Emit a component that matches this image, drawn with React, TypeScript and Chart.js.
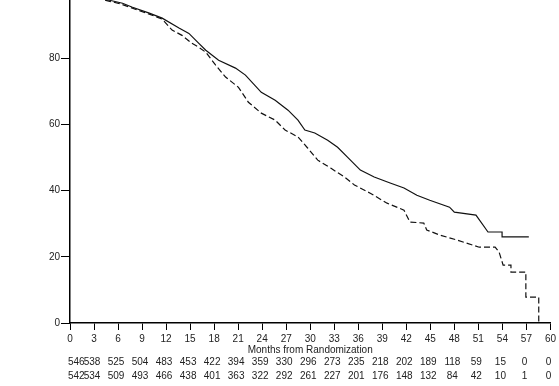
import React, { useEffect, useRef } from "react";
import { Chart, registerables } from "chart.js";

Chart.register(...registerables);

// Kaplan-Meier curves (months, survival %)
const solidMonths = [0, 4.95, 6.56, 7.8, 9.9, 11.51, 13.61, 14.85, 16.09, 16.96, 18.56, 20.67, 21.91, 23.89, 25.62, 27.23, 28.47, 29.33, 30.57, 32.18, 33.42, 34.65, 36.26, 37.99, 39.98, 41.71, 43.32, 44.93, 47.4, 48.0, 50.7, 52.2, 53.96, 53.96, 57.3];
const solidSurvival = [100, 97.5, 96.6, 95.4, 93.6, 92.1, 89.1, 87.5, 84.5, 82.4, 79.4, 77.0, 74.9, 69.7, 67.3, 64.3, 61.3, 58.3, 57.4, 55.2, 53.1, 50.1, 46.2, 44.1, 42.3, 40.8, 38.6, 37.1, 35.0, 33.5, 32.6, 27.5, 27.5, 26.0, 26.0];

const dashedMonths = [0, 4.6, 6.2, 7.8, 9.9, 11.51, 12.75, 13.99, 15.22, 16.09, 16.96, 18.19, 19.43, 21.04, 22.28, 23.89, 25.62, 26.86, 28.47, 29.7, 30.94, 32.55, 34.28, 35.52, 37.5, 39.6, 41.71, 42.45, 44.18, 44.55, 46.16, 48.27, 51.11, 53.09, 53.59, 54.09, 55.07, 55.07, 56.93, 56.93, 58.54, 58.54];
const dashedSurvival = [100, 97.4, 96.5, 95.1, 93.3, 91.8, 88.5, 86.9, 84.5, 83.3, 81.8, 77.9, 74.3, 71.2, 66.7, 63.4, 61.3, 58.3, 56.2, 52.8, 49.2, 46.8, 44.1, 41.7, 39.2, 36.2, 34.1, 30.5, 30.2, 28.1, 26.6, 25.1, 22.9, 22.9, 21.4, 17.5, 17.5, 15.4, 15.4, 7.8, 7.8, 0];

// Number at risk
const atRiskMonths = [0, 3, 6, 9, 12, 15, 18, 21, 24, 27, 30, 33, 36, 39, 42, 45, 48, 51, 54, 57, 60];
const atRiskSolid = [546, 538, 525, 504, 483, 453, 422, 394, 359, 330, 296, 273, 235, 218, 202, 189, 118, 59, 15, 0, 0];
const atRiskDashed = [542, 534, 509, 493, 466, 438, 401, 363, 322, 292, 261, 227, 201, 176, 148, 132, 84, 42, 10, 1, 0];

const xTitle = "Months from Randomization";

const OFFSET = 20; // canvas starts above the page top
const FONT = "Liberation Sans, Arial, sans-serif";

export default function App() {
  const ref = useRef<HTMLCanvasElement | null>(null);

  useEffect(() => {
    if (!ref.current) return;
    const toPts = (xs: number[], ys: number[]) => xs.map((x, i) => ({ x, y: ys[i] }));

    const riskPlugin = {
      id: "riskTable",
      afterDraw(chart: any) {
        const ctx = chart.ctx;
        const xs = chart.scales.x;
        ctx.save();
        ctx.fillStyle = "#222";
        ctx.textBaseline = "middle";
        ctx.font = `10px ${FONT}`;
        ctx.textAlign = "center";
        ctx.fillText(xTitle, (xs.left + xs.right) / 2, 350 + OFFSET);
        const rows = [atRiskSolid, atRiskDashed];
        const rowY = [362, 376];
        rows.forEach((row, r) => {
          row.forEach((n, i) => {
            const px = xs.getPixelForValue(atRiskMonths[i]);
            ctx.textAlign = i === 0 ? "left" : "center";
            ctx.fillText(String(n), px - 2, rowY[r] + OFFSET);
          });
        });
        ctx.restore();
      },
    };

    const chart = new Chart(ref.current, {
      type: "line",
      data: {
        datasets: [
          {
            data: toPts(solidMonths, solidSurvival),
            borderColor: "#111",
            borderWidth: 1.2,
            pointRadius: 0,
            tension: 0,
            fill: false,
          },
          {
            data: toPts(dashedMonths, dashedSurvival),
            borderColor: "#111",
            borderWidth: 1.2,
            borderDash: [6, 3],
            pointRadius: 0,
            tension: 0,
            fill: false,
          },
        ],
      },
      options: {
        animation: false,
        responsive: false,
        devicePixelRatio: 1,
        parsing: false,
        layout: { padding: { top: 12, right: 4, left: 0, bottom: 0 } },
        plugins: { legend: { display: false }, tooltip: { enabled: false } },
        scales: {
          x: {
            type: "linear",
            min: 0,
            max: 60,
            ticks: {
              stepSize: 3,
              autoSkip: false,
              maxRotation: 0,
              color: "#222",
              padding: 3,
              font: { family: FONT, size: 10 },
            },
            grid: { display: true, drawOnChartArea: false, drawTicks: true, tickLength: 7, color: "#000", lineWidth: 1 },
            border: { display: true, color: "#000", width: 1.5 },
            afterFit: (s: any) => {
              s.height = 63;
            },
          },
          y: {
            type: "linear",
            min: 0,
            max: 100,
            ticks: {
              stepSize: 20,
              color: "#222",
              padding: 1,
              font: { family: FONT, size: 10 },
            },
            grid: { display: true, drawOnChartArea: false, drawTicks: true, tickLength: 9, color: "#000", lineWidth: 1 },
            border: { display: true, color: "#000", width: 1.5 },
            afterFit: (s: any) => {
              s.width = 70;
            },
          },
        },
      },
      plugins: [riskPlugin],
    });
    return () => chart.destroy();
  }, []);

  return (
    <div style={{ position: "absolute", left: 0, top: -OFFSET, width: 559, height: 386 + OFFSET, background: "#fff" }}>
      <canvas ref={ref} width={559} height={386 + OFFSET} style={{ display: "block" }} />
    </div>
  );
}
